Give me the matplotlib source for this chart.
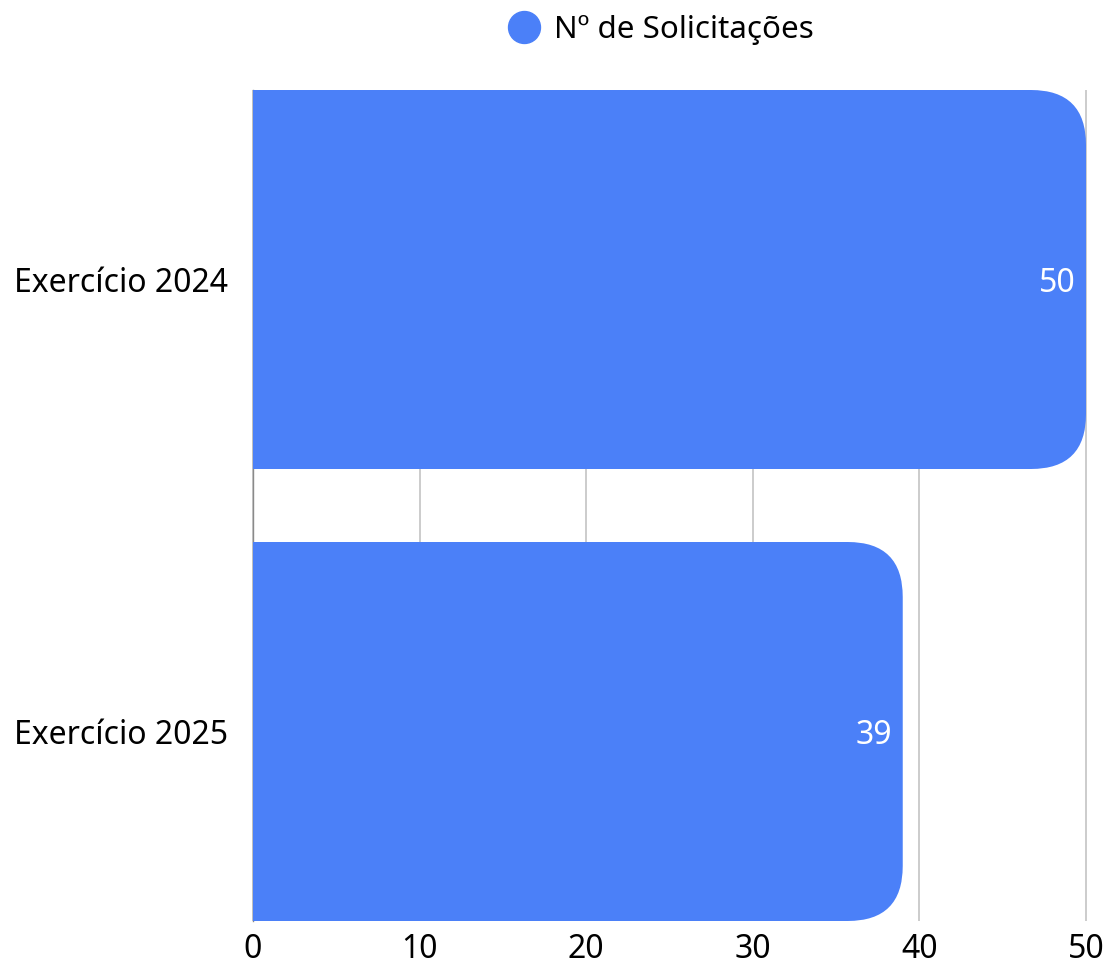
import matplotlib
matplotlib.use("Agg")
import matplotlib.pyplot as plt
from matplotlib.patches import FancyBboxPatch, Rectangle
from matplotlib.lines import Line2D

# Data
categories = ["Exercício 2024", "Exercício 2025"]
solicitacoes = [50, 39]
x_ticks = [0, 10, 20, 30, 40, 50]
series_label = "Nº de Solicitações"

BAR_COLOR = "#4B80F8"
plt.rcParams["font.family"] = ["Noto Sans", "DejaVu Sans"]

W, H = 1107, 965
fig = plt.figure(figsize=(W / 100, H / 100), dpi=100)
fig.patch.set_facecolor("white")

left_px, right_px, top_px, bottom_px = 253, 1086, 90, 921
ax = fig.add_axes([left_px / W, 1 - bottom_px / H,
                   (right_px - left_px) / W, (bottom_px - top_px) / H])

bar_h = 379 / 452
ax.set_xlim(0, 50)
ax.set_ylim(len(categories) - 1 + bar_h / 2, -bar_h / 2)

ypos = list(range(len(categories)))
bars = ax.barh(ypos, solicitacoes, height=bar_h, color=BAR_COLOR)

# Rounded right ends: radius in pixels converted to data units on each axis
px_per_x = (right_px - left_px) / 50
px_per_y = (bottom_px - top_px) / (len(categories) - 1 + bar_h)
radius_px = 55
rx = radius_px / px_per_x
aspect = px_per_x / px_per_y

for rect in bars:
    x0, y0 = rect.get_xy()
    w, h = rect.get_width(), rect.get_height()
    rect.set_visible(False)
    rounded = FancyBboxPatch((x0, y0), w, h,
                             boxstyle=f"round,pad=0,rounding_size={rx}",
                             mutation_aspect=aspect,
                             facecolor=BAR_COLOR, edgecolor="none", zorder=3)
    ax.add_patch(rounded)
    square = Rectangle((x0, y0), w - rx, h, facecolor=BAR_COLOR,
                       edgecolor="none", zorder=3)
    ax.add_patch(square)

# Value labels inside the bar ends
for y, v in zip(ypos, solicitacoes):
    ax.text(v - 0.63, y, str(v), ha="right", va="center_baseline",
            color="white", fontsize=23, zorder=4)

ax.set_xticks(x_ticks)
ax.set_xticklabels([str(t) for t in x_ticks])
ax.set_yticks(ypos)
ax.set_yticklabels(categories, va="center_baseline")
ax.tick_params(axis="x", length=0, labelsize=23, pad=9)
ax.tick_params(axis="y", length=0, labelsize=23, pad=18)

ax.grid(axis="x", color="#c4c4c4", linewidth=1.2, zorder=1)
ax.set_axisbelow(True)
for gl in ax.get_xgridlines():
    gl.set_clip_on(False)
    gl.set_solid_capstyle("butt")
for side in ["top", "right", "bottom"]:
    ax.spines[side].set_visible(False)
ax.spines["left"].set_color("#8a8a8a")
ax.spines["left"].set_linewidth(1)
ax.spines["left"].set_zorder(1.5)

handle = Line2D([], [], marker="o", linestyle="", markersize=23,
                markerfacecolor=BAR_COLOR, markeredgecolor=BAR_COLOR)
fig.legend(handles=[handle], labels=[series_label], loc="center",
           bbox_to_anchor=(661 / W, 1 - 30 / H), frameon=False,
           fontsize=22.5, handletextpad=0.45, handlelength=1.0)

fig.savefig("out.png", dpi=100, facecolor="white")
